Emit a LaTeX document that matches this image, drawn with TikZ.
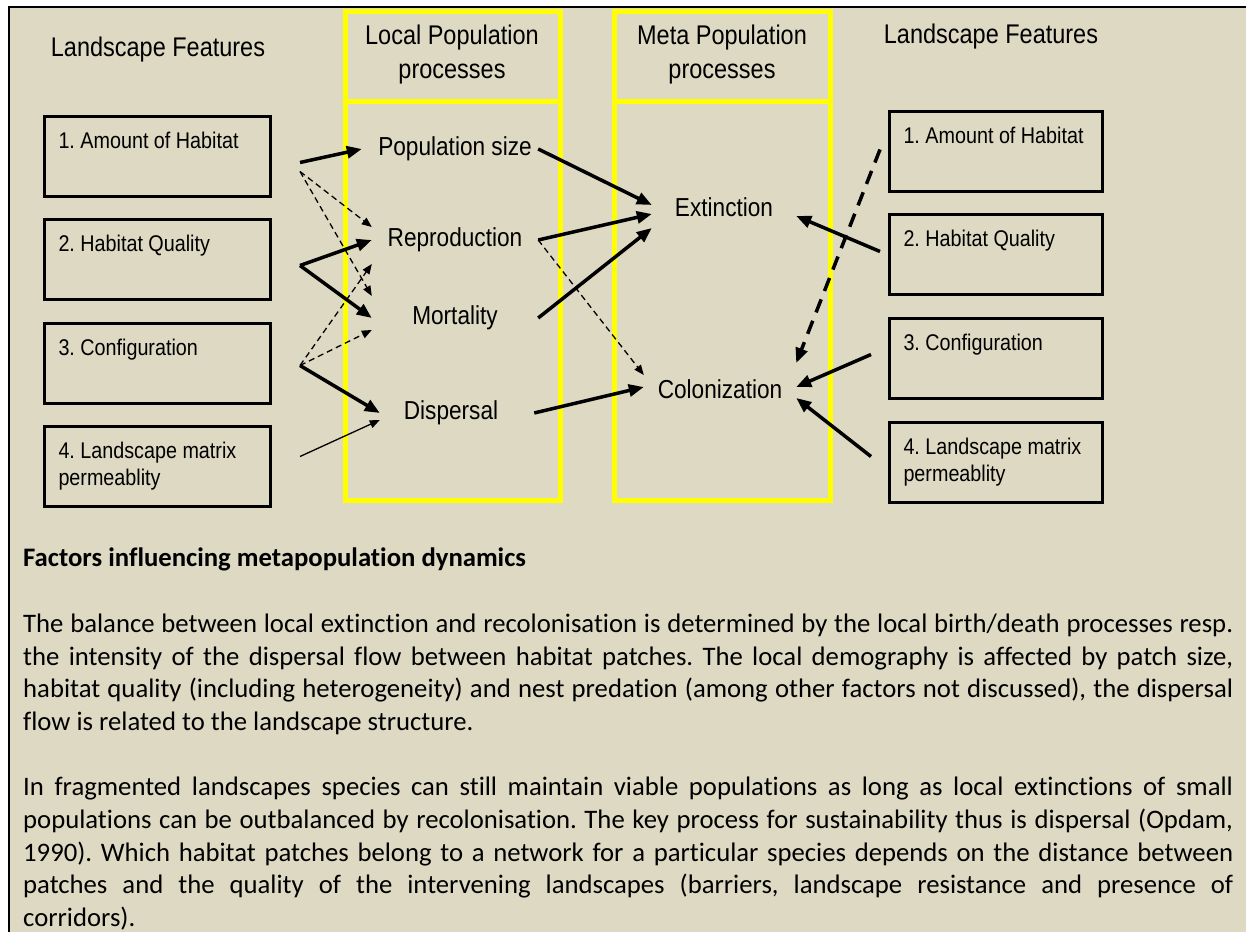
\documentclass[tikz,border=0pt]{standalone}
\usepackage{fontspec}
\usepackage{xcolor}
\usetikzlibrary{arrows.meta}
\setmainfont{Carlito}[Ligatures=NoCommon]
\newfontfamily\arialn[FakeStretch=0.87]{Liberation Sans}
\definecolor{paper}{RGB}{221,217,195}
\definecolor{hiyellow}{RGB}{255,255,0}
\setlength{\parindent}{0pt}
\frenchspacing\hyphenpenalty=10000\relax
\newcommand{\boxtxt}[2]{\parbox[c][80pt][t]{#1}{\vspace*{16pt}\raggedright #2}}

\begin{document}
\begin{tikzpicture}[x=1pt,y=-1pt,
  feat/.style={draw,line width=3pt,inner xsep=14pt,inner ysep=0pt,anchor=north west,font=\arialn\fontsize{22.7}{27}\selectfont},
  proc/.style={minimum width=166pt,minimum height=48pt,inner sep=0pt,font=\arialn\fontsize{26}{31}\selectfont},
  head/.style={align=center,inner sep=0pt,font=\arialn\fontsize{27}{34}\selectfont},
  thk/.style={line width=3.5pt,-{Triangle[length=15pt,width=12pt]}},
  thn/.style={line width=1.3pt,-{Triangle[length=10pt,width=8pt]}},
  dsh/.style={thn,dash pattern=on 6pt off 4pt},
  dshk/.style={thk,dash pattern=on 14pt off 9pt}]
\useasboundingbox(0,0)rectangle(1246,931);\clip(0,0)rectangle(1246,931);
\draw[line width=2.5pt,fill=paper](9,7)rectangle(1300,1000);
\draw[hiyellow,line width=5pt](345,12)rectangle(560,500)(345,102)--(560,102);
\draw[hiyellow,line width=5pt](614,12)rectangle(830,500)(614,102)--(830,102);
\node[head](lochd)at(452,55){Local Population\\processes};
\node[head](methd)at(722,55){Meta Population\\processes};
\node[head](featL)at(158,50){Landscape Features};
\node[head](featR)at(991,37){Landscape Features};
\node[feat](lb1)at(43,115){\boxtxt{198pt}{1. Amount of Habitat}};
\node[feat](lb2)at(43,218){\boxtxt{198pt}{2. Habitat Quality}};
\node[feat](lb3)at(43,322){\boxtxt{198pt}{3. Configuration}};
\node[feat](lb4)at(43,425){\boxtxt{198pt}{4. Landscape matrix\\permeablity}};
\node[feat](rb1)at(888,110){\boxtxt{185pt}{1. Amount of Habitat}};
\node[feat](rb2)at(888,213){\boxtxt{185pt}{2. Habitat Quality}};
\node[feat](rb3)at(888,317){\boxtxt{185pt}{3. Configuration}};
\node[feat](rb4)at(888,421){\boxtxt{185pt}{4. Landscape matrix\\permeablity}};
\node[proc](pop)at(455,149){Population size};
\node[proc](rep)at(455,240){Reproduction};
\node[proc](mor)at(455,318){Mortality};
\node[proc](dis)at(451,413){Dispersal};
\node[proc,minimum width=144pt](ext)at(724,207){Extinction};
\node[proc,minimum width=152pt](col)at(720,389){Colonization};
\coordinate(lb1a)at([xshift=28pt,yshift=-6pt]lb1.east);\coordinate(lb1b)at([xshift=28pt,yshift=-15pt]lb1.east);
\coordinate(lb2a)at([xshift=28pt,yshift=-6pt]lb2.east);\coordinate(lb3a)at([xshift=28pt,yshift=-2pt]lb3.east);
\coordinate(lb4a)at([xshift=28pt,yshift=10pt]lb4.east);
\coordinate(rb1a)at([xshift=-8pt,yshift=2pt]rb1.west);\coordinate(rb2a)at([xshift=-8pt,yshift=3pt]rb2.west);
\coordinate(rb3a)at([xshift=-17pt,yshift=4pt]rb3.west);\coordinate(rb4a)at([xshift=-17pt,yshift=6pt]rb4.west);
\draw[thk](lb1a)--([xshift=-10pt]pop.west);
\draw[dsh](lb1b)--([yshift=13pt]rep.west);\draw[dsh](lb1b)--([yshift=22pt]mor.west);
\draw[thk](lb2a)--(rep.west);\draw[thk](lb2a)--(mor.west);
\draw[dsh](lb3a)--([yshift=-24pt]rep.west);\draw[dsh](lb3a)--([yshift=-12pt]mor.west);
\draw[thk](lb3a)--([xshift=12pt]dis.west);
\draw[thn](lb4a)--([xshift=12pt,yshift=-7pt]dis.west);
\draw[thk](pop.east)--([yshift=2pt]ext.west);\draw[thk](rep.east)--([yshift=-7pt]ext.west);
\draw[thk](mor.east)--([yshift=-21pt]ext.west);
\draw[dsh](rep.east)--([yshift=14pt]col.west);\draw[thk](dis.east)--([yshift=2pt]col.west);
\draw[dshk](rb1a)--([yshift=26pt]col.east);
\draw[thk](rb2a)--([yshift=-9pt]ext.east);
\draw[thk](rb3a)--([yshift=2pt]col.east);\draw[thk](rb4a)--([yshift=-9pt]col.east);
\node[anchor=north west,text width=1210pt,align=justify,inner sep=0pt,font=\fontsize{26.7}{32.7}\selectfont](notes)at(23,548){%
{\bfseries Factors influencing metapopulation dynamics}\par\vspace{32.7pt}
The balance between local extinction and recolonisation is determined by the local birth/death processes resp.\linebreak the intensity of the dispersal flow between habitat patches. The local demography is affected by patch size,\linebreak habitat quality (including heterogeneity) and nest predation (among other factors not discussed), the dispersal\linebreak flow is related to the landscape structure.\par\vspace{32.7pt}
In fragmented landscapes species can still maintain viable populations as long as local extinctions of small\linebreak populations can be outbalanced by recolonisation. The key process for sustainability thus is dispersal (Opdam,\linebreak 1990). Which habitat patches belong to a network for a particular species depends on the distance between\linebreak patches and the quality of the intervening landscapes (barriers, landscape resistance and presence of\linebreak corridors).};
\end{tikzpicture}
\end{document}
